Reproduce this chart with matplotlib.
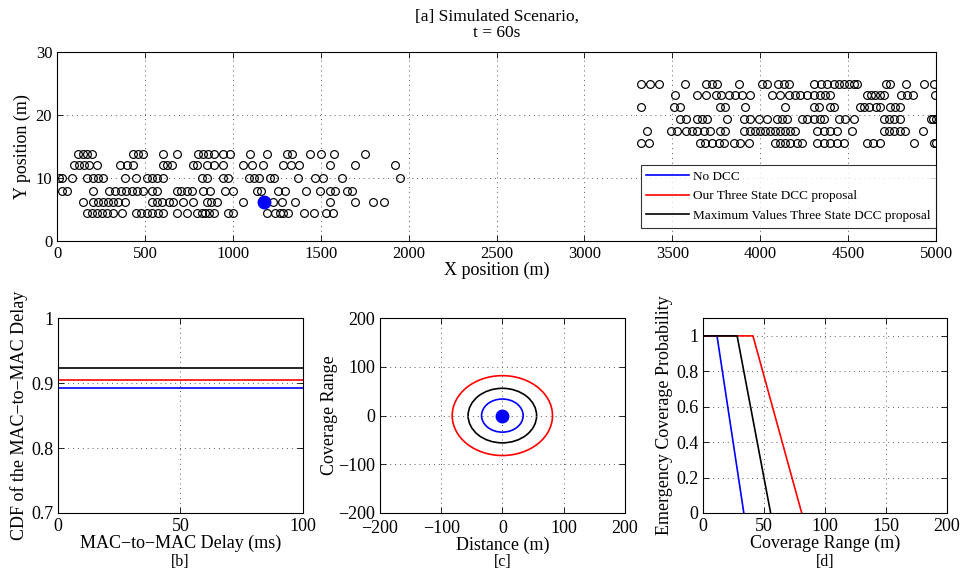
import matplotlib
matplotlib.use("Agg")
import matplotlib.pyplot as plt
from matplotlib.lines import Line2D
from matplotlib.patches import Circle

plt.rcParams['font.family'] = ['Liberation Serif', 'DejaVu Serif']
plt.rcParams['xtick.direction'] = 'in'
plt.rcParams['ytick.direction'] = 'in'
plt.rcParams['xtick.top'] = True
plt.rcParams['ytick.right'] = True

# ---- [a] vehicle positions, one list per lane (x in m) ----
lane_y_left = [13.75, 12.0, 10.0, 8.0, 6.25, 4.5]
lane1 = [121, 150, 173, 197, 434, 463, 491, 605, 685, 804, 833, 861, 890, 943, 984,
         1098, 1193, 1307, 1335, 1436, 1500, 1576, 1752]
lane2 = [97, 127, 156, 184, 226, 358, 396, 434, 605, 628, 652, 772, 795, 855, 890, 943,
         1060, 1108, 1174, 1288, 1330, 1379, 1553, 1696, 1923]
lane3 = [10, 30, 84, 173, 203, 235, 264, 387, 450, 514, 539, 567, 605, 823, 852, 946, 975,
         1092, 1121, 1151, 1212, 1235, 1373, 1468, 1515, 1620, 1948]
lane4 = [27, 59, 203, 298, 330, 362, 393, 425, 457, 487, 539, 567, 681, 704, 742, 766, 833,
         871, 956, 1003, 1136, 1159, 1256, 1297, 1417, 1496, 1550, 1582, 1648, 1677]
lane5 = [150, 207, 235, 264, 292, 321, 349, 387, 539, 567, 596, 634, 658, 719, 772, 852,
         876, 909, 1056, 1227, 1278, 1354, 1553, 1696, 1800, 1857]
lane6 = [169, 197, 226, 254, 286, 321, 368, 450, 476, 510, 539, 577, 601, 681, 738, 795,
         823, 842, 867, 890, 975, 1003, 1193, 1240, 1269, 1288, 1316, 1402, 1462, 1531, 1572]

lane_y_right = [25.0, 23.1, 21.25, 19.4, 17.5, 15.6]
lane7 = [3321, 3374, 3422, 3573, 3693, 3725, 3754, 3877, 4010, 4038, 4100, 4133, 4161, 4304,
         4345, 4379, 4417, 4446, 4474, 4503, 4531, 4550, 4717, 4740, 4831, 4929, 4986]
lane8 = [3516, 3640, 3693, 3750, 3776, 3820, 3858, 3896, 3939, 4066, 4114, 4161, 4199, 4228,
         4266, 4304, 4342, 4370, 4398, 4607, 4630, 4654, 4679, 4702, 4802, 4835, 4867, 4995]
lane9 = [3321, 3507, 3545, 3773, 3801, 3915, 4142, 4307, 4332, 4398, 4421, 4565, 4592, 4617,
         4660, 4683, 4740, 4768, 4797]
lane10 = [3545, 3579, 3640, 3668, 3697, 3810, 3909, 3943, 3991, 4038, 4095, 4123, 4152, 4237,
          4266, 4304, 4342, 4361, 4446, 4484, 4531, 4702, 4730, 4759, 4797, 4970, 4985, 5000]
lane11 = [3355, 3492, 3526, 3579, 3611, 3640, 3678, 3716, 3773, 3801, 3909, 3939, 3972, 4000,
          4029, 4057, 4085, 4114, 4142, 4171, 4199, 4323, 4361, 4398, 4436, 4522, 4702, 4730,
          4759, 4797, 4825, 4926]
lane12 = [3321, 3365, 3659, 3687, 3725, 3763, 3795, 3849, 3886, 3934, 4085, 4114, 4142, 4171,
          4209, 4237, 4323, 4361, 4398, 4436, 4474, 4607, 4641, 4683, 4873, 4986, 4998]

ego_x = 1176
ego_y = 6.25

# ---- [b] CDF of MAC-to-MAC delay ----
delay = [0, 0, 100]
cdf_nodcc = [0.0, 0.892, 0.892]
cdf_ours = [0.0, 0.905, 0.905]
cdf_max = [0.0, 0.923, 0.923]

# ---- [c] coverage radius (m) ----
radius_nodcc = 34
radius_ours = 82
radius_max = 56

# ---- [d] emergency coverage probability ----
range_nodcc = [0, 11.5, 33.5]
range_ours = [0, 41, 81]
range_max = [0, 28, 55.5]
prob = [1, 1, 0]

labels = ['No DCC', 'Our Three State DCC proposal', 'Maximum Values Three State DCC proposal']
colors = ['#0000ff', '#ff0000', 'black']

fig = plt.figure(figsize=(9.67, 5.78), dpi=100)

def style(ax, fs):
    ax.grid(True, linestyle=(0, (1, 4)), color='0.35', linewidth=0.7)
    ax.tick_params(labelsize=fs, length=4, width=0.6)
    for s in ax.spines.values():
        s.set_linewidth(0.8)

# top panel
ax = fig.add_axes([0.059, 0.583, 0.909, 0.327])
for xs, yv in zip([lane1, lane2, lane3, lane4, lane5, lane6], lane_y_left):
    ax.plot(xs, [yv] * len(xs), 'o', mfc='none', mec='black', ms=5.6, mew=0.85)
for xs, yv in zip([lane7, lane8, lane9, lane10, lane11, lane12], lane_y_right):
    ax.plot(xs, [yv] * len(xs), 'o', mfc='none', mec='black', ms=5.6, mew=0.85)
ax.plot([ego_x], [ego_y], 'o', color='#0000ff', ms=9)
ax.set_xlim(0, 5000)
ax.set_ylim(0, 30)
ax.set_xticks(range(0, 5001, 500))
ax.set_yticks([0, 10, 20, 30])
ax.set_xlabel('X position (m)', fontsize=13, labelpad=0)
ax.set_ylabel('Y position (m)', fontsize=13, labelpad=3)
ax.set_title('[a] Simulated Scenario,\nt = 60s', fontsize=12.5, pad=11, linespacing=1.0)
style(ax, 12)
handles = [Line2D([], [], color=c, lw=1.2) for c in colors]
leg = ax.legend(handles, labels, loc='lower right', bbox_to_anchor=(1.0, 0.07),
                fontsize=9.5, frameon=True, fancybox=False, edgecolor='black',
                borderaxespad=0, handlelength=3.2, labelspacing=0.55,
                borderpad=0.45, handletextpad=0.3)
leg.get_frame().set_linewidth(0.8)

# [b]
axb = fig.add_axes([0.060, 0.1125, 0.253, 0.337])
axb.plot(delay, cdf_nodcc, color=colors[0], lw=1.2)
axb.plot(delay, cdf_max, color=colors[2], lw=1.2)
axb.plot(delay, cdf_ours, color=colors[1], lw=1.2)
axb.set_xlim(0, 100)
axb.set_ylim(0.7, 1)
axb.set_xticks([0, 50, 100])
axb.set_yticks([0.7, 0.8, 0.9, 1])
axb.set_yticklabels(['0.7', '0.8', '0.9', '1'])
axb.set_xlabel('MAC\u2212to\u2212MAC Delay (ms)', fontsize=13, labelpad=0)
axb.set_ylabel('CDF of the MAC\u2212to\u2212MAC Delay', fontsize=13, labelpad=2)
axb.text(0.5, -0.25, '[b]', transform=axb.transAxes, ha='center', va='center', fontsize=11.5)
style(axb, 13)

# [c]
axc = fig.add_axes([0.393, 0.1125, 0.253, 0.337])
axc.add_patch(Circle((0, 0), radius_ours, fill=False, edgecolor=colors[1], lw=1.2))
axc.add_patch(Circle((0, 0), radius_max, fill=False, edgecolor=colors[2], lw=1.2))
axc.add_patch(Circle((0, 0), radius_nodcc, fill=False, edgecolor=colors[0], lw=1.2))
axc.plot([0], [0], 'o', color='#0000ff', ms=9)
axc.set_xlim(-200, 200)
axc.set_ylim(-200, 200)
axc.set_xticks([-200, -100, 0, 100, 200])
axc.set_yticks([-200, -100, 0, 100, 200])
axc.set_xlabel('Distance (m)', fontsize=13, labelpad=0)
axc.set_ylabel('Coverage Range', fontsize=13, labelpad=0)
axc.text(0.5, -0.25, '[c]', transform=axc.transAxes, ha='center', va='center', fontsize=11.5)
style(axc, 13)
axc.tick_params(axis='x', pad=5)

# [d]
axd = fig.add_axes([0.727, 0.1125, 0.252, 0.337])
axd.plot(range_nodcc, prob, color=colors[0], lw=1.2)
axd.plot(range_ours, prob, color=colors[1], lw=1.2)
axd.plot(range_max, prob, color=colors[2], lw=1.2)
axd.set_xlim(0, 200)
axd.set_ylim(0, 1.1)
axd.set_xticks([0, 50, 100, 150, 200])
axd.set_yticks([0, 0.2, 0.4, 0.6, 0.8, 1])
axd.set_yticklabels(['0', '0.2', '0.4', '0.6', '0.8', '1'])
axd.set_xlabel('Coverage Range (m)', fontsize=13, labelpad=0)
axd.set_ylabel('Emergency Coverage Probability', fontsize=13, labelpad=2)
axd.text(0.5, -0.25, '[d]', transform=axd.transAxes, ha='center', va='center', fontsize=11.5)
style(axd, 13)

fig.savefig('out.png', dpi=100)
